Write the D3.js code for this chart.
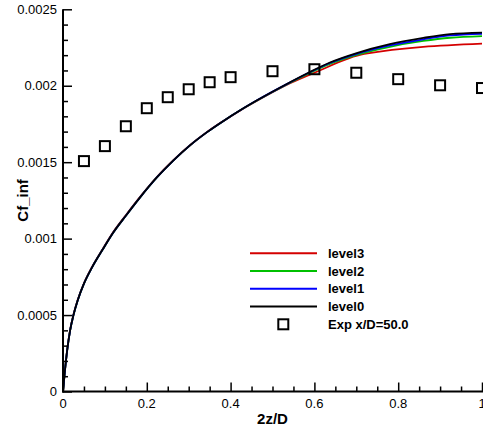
<!DOCTYPE html>
<html>
<head>
<meta charset="utf-8">
<script src="https://cdn.jsdelivr.net/npm/d3@7"></script>
<style>
  body { margin: 0; background: #fff; }
  svg { display: block; font-family: "Liberation Sans", Arial, Helvetica, sans-serif; }
</style>
</head>
<body>
<div class="js-chart"></div>
<script>
'use strict';

// skin friction along 2z/D
var levelX = [0, 0.004, 0.01, 0.017, 0.025, 0.035, 0.05, 0.07, 0.095, 0.12, 0.15, 0.184,
    0.224, 0.263, 0.303, 0.343, 0.383, 0.422, 0.462, 0.542, 0.589, 0.637, 0.701, 0.78, 0.86, 0.924, 1.0];
var level0 = [0, 0.00012, 0.00027, 0.0004, 0.0005, 0.000595, 0.000705, 0.000815, 0.00093, 0.00104, 0.00115, 0.00127,
    0.0014, 0.00151, 0.00161, 0.001695, 0.00177, 0.001838, 0.001903, 0.002023, 0.00209, 0.002152, 0.002214, 0.002272, 0.002313, 0.002338, 0.002348];
var level1 = [0, 0.00012, 0.00027, 0.0004, 0.0005, 0.000595, 0.000705, 0.000815, 0.00093, 0.00104, 0.00115, 0.00127,
    0.0014, 0.00151, 0.00161, 0.001695, 0.00177, 0.001838, 0.001903, 0.002022, 0.002088, 0.002149, 0.002209, 0.002264, 0.002304, 0.002329, 0.00234];
var level2 = [0, 0.00012, 0.00027, 0.0004, 0.0005, 0.000595, 0.000705, 0.000815, 0.00093, 0.00104, 0.00115, 0.00127,
    0.0014, 0.00151, 0.00161, 0.001695, 0.00177, 0.001838, 0.001902, 0.00202, 0.002084, 0.002143, 0.002202, 0.002255, 0.002293, 0.002314, 0.002325];
var level3X = [0, 0.004, 0.01, 0.017, 0.025, 0.035, 0.05, 0.07, 0.095, 0.12, 0.15, 0.184,
    0.224, 0.263, 0.303, 0.343, 0.383, 0.422, 0.462, 0.542, 0.6, 0.719, 1.0];
var level3 = [0, 0.00012, 0.000272, 0.000403, 0.000503, 0.000598, 0.000708, 0.000818, 0.000933, 0.001043, 0.001153, 0.001273,
    0.001403, 0.001512, 0.001611, 0.001696, 0.00177, 0.001837, 0.0019, 0.002016, 0.002085, 0.002208, 0.002276];

// experiment
var expX = [0.05, 0.1, 0.15, 0.2, 0.25, 0.3, 0.35, 0.4, 0.5, 0.6, 0.7, 0.8, 0.9, 1.0];
var expY = [0.001507, 0.001605, 0.001735, 0.001853, 0.001925, 0.001977, 0.002023, 0.002056,
    0.002095, 0.002108, 0.002085, 0.002043, 0.002003, 0.001985];

var xTicks = [0, 0.2, 0.4, 0.6, 0.8, 1];
var yTicks = [0, 0.0005, 0.001, 0.0015, 0.002, 0.0025];
var yTickLabels = ['0', '0.0005', '0.001', '0.0015', '0.002', '0.0025'];

var series = [
    {name: 'level3', color: '#d40000', xs: level3X, ys: level3},
    {name: 'level2', color: '#00c000', xs: levelX, ys: level2},
    {name: 'level1', color: '#0000ff', xs: levelX, ys: level1},
    {name: 'level0', color: '#000000', xs: levelX, ys: level0}
];

var W = 483, H = 429;
var plot = {l: 63, r: 482, t: 9.3, b: 391.5};

var svg = d3.select('.js-chart').append('svg')
    .attr('width', W)
    .attr('height', H);

var x = d3.scaleLinear().domain([0, 1]).range([plot.l, plot.r]);
var y = d3.scaleLinear().domain([0, 0.0025]).range([plot.b, plot.t]);

//curves
var line = d3.line()
    .x(function (d) { return x(d[0]); })
    .y(function (d) { return y(d[1]); })
    .curve(d3.curveMonotoneX);

series.forEach(function (s) {
    var pts = s.xs.map(function (v, i) { return [v, s.ys[i]]; });
    svg.append('path')
        .datum(pts)
        .attr('d', line)
        .style('fill', 'none')
        .style('stroke', s.color)
        .style('stroke-width', 1.8);
});

//experiment squares
svg.selectAll('.js-exp')
    .data(expX)
    .enter()
    .append('rect')
    .attr('class', 'js-exp')
    .attr('x', function (d) { return x(d) - 5; })
    .attr('y', function (d, i) { return y(expY[i]) - 5; })
    .attr('width', 10)
    .attr('height', 10)
    .style('fill', 'none')
    .style('stroke', '#000')
    .style('stroke-width', 2);

//axes, ticks pointing inward
var xAxis = svg.append('g').attr('transform', 'translate(0,' + plot.b + ')');
xAxis.call(d3.axisTop(x).tickValues(d3.range(0, 1.0001, 0.05)).tickSize(5).tickFormat(''));
xAxis.call(function (g) {
    g.selectAll('.tick').filter(function (d) { return xTicks.some(function (t) { return Math.abs(t - d) < 1e-9; }); })
        .select('line').attr('y2', -9);
});
xAxis.select('.domain').remove();
xAxis.selectAll('line').style('stroke', '#000').style('stroke-width', 1.5);

var yAxis = svg.append('g').attr('transform', 'translate(' + plot.l + ',0)');
yAxis.call(d3.axisRight(y).tickValues(d3.range(0, 0.00250001, 0.0001)).tickSize(5).tickFormat(''));
yAxis.call(function (g) {
    g.selectAll('.tick').filter(function (d) { return yTicks.some(function (t) { return Math.abs(t - d) < 1e-9; }); })
        .select('line').attr('x2', 9);
});
yAxis.select('.domain').remove();
yAxis.selectAll('line').style('stroke', '#000').style('stroke-width', 1.5);

//spines
svg.append('line')
    .attr('x1', plot.l).attr('x2', plot.l)
    .attr('y1', plot.t).attr('y2', plot.b + 1)
    .style('stroke', '#000').style('stroke-width', 2);
svg.append('line')
    .attr('x1', plot.l - 1).attr('x2', plot.r + 2)
    .attr('y1', plot.b).attr('y2', plot.b)
    .style('stroke', '#000').style('stroke-width', 2);

//tick labels
svg.selectAll('.js-xl')
    .data(xTicks)
    .enter()
    .append('text')
    .attr('class', 'js-xl')
    .attr('x', function (d) { return x(d); })
    .attr('y', plot.b + 16)
    .attr('text-anchor', 'middle')
    .style('font-size', '13px')
    .text(function (d) { return d3.format('~g')(d); });

svg.selectAll('.js-yl')
    .data(yTicks)
    .enter()
    .append('text')
    .attr('class', 'js-yl')
    .attr('x', plot.l - 6)
    .attr('y', function (d) { return y(d) + 4.5; })
    .attr('text-anchor', 'end')
    .style('font-size', '13px')
    .text(function (d, i) { return yTickLabels[i]; });

//axis titles
svg.append('text')
    .attr('x', (plot.l + plot.r) / 2)
    .attr('y', 423.5)
    .attr('text-anchor', 'middle')
    .style('font-size', '15px')
    .style('font-weight', 'bold')
    .text('2z/D');

svg.append('text')
    .attr('transform', 'translate(28,' + ((plot.t + plot.b) / 2) + ') rotate(-90)')
    .attr('text-anchor', 'middle')
    .style('font-size', '15px')
    .style('font-weight', 'bold')
    .text('Cf_inf');

//legend
var legend = svg.append('g').attr('transform', 'translate(250,253.3)');
var rowH = 17.75;
series.forEach(function (s, i) {
    legend.append('line')
        .attr('x1', 0).attr('x2', 67)
        .attr('y1', i * rowH).attr('y2', i * rowH)
        .style('stroke', s.color)
        .style('stroke-width', 2);
    legend.append('text')
        .attr('x', 78)
        .attr('y', i * rowH + 4.5)
        .style('font-size', '13px')
        .style('font-weight', 'bold')
        .text(s.name);
});
legend.append('rect')
    .attr('x', 33.3 - 5).attr('y', 4 * rowH - 5)
    .attr('width', 10).attr('height', 10)
    .style('fill', 'none')
    .style('stroke', '#000')
    .style('stroke-width', 2);
legend.append('text')
    .attr('x', 78)
    .attr('y', 4 * rowH + 4.5)
    .style('font-size', '13px')
    .style('font-weight', 'bold')
    .text('Exp x/D=50.0');
</script>
</body>
</html>
